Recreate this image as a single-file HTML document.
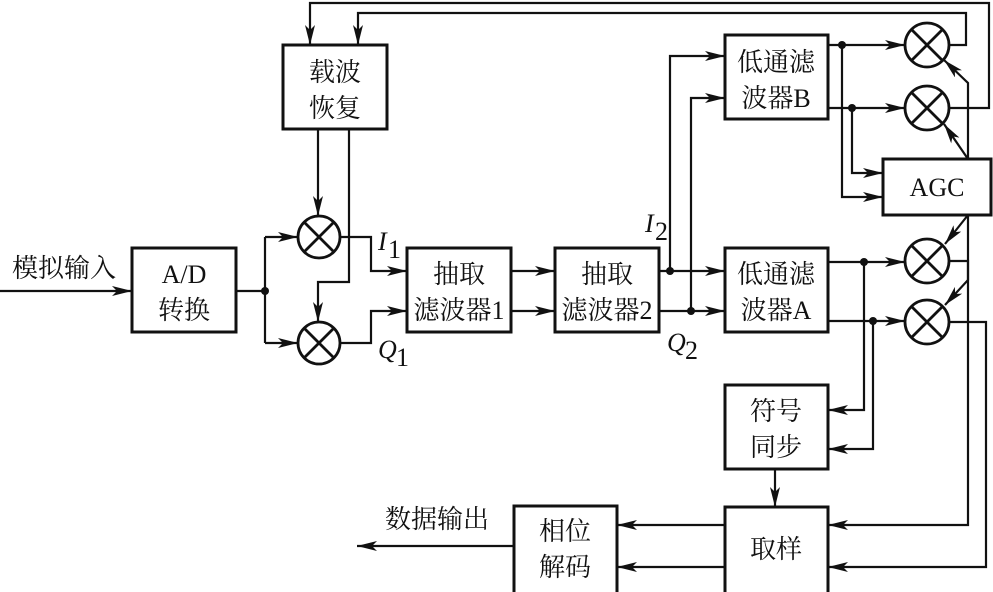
<!DOCTYPE html>
<html><head><meta charset="utf-8"><style>
html,body{margin:0;padding:0;background:#fff;}
svg{display:block;}
text{font-family:"Liberation Serif","Noto Serif CJK SC","Noto Sans CJK SC",serif;font-size:26px;fill:#111;}
.i{font-style:italic;}
</style></head><body>
<svg width="993" height="592" viewBox="0 0 993 592" xmlns="http://www.w3.org/2000/svg">
<defs>
<marker id="a" viewBox="0 0 20 10" refX="20" refY="5" markerWidth="20" markerHeight="10" markerUnits="userSpaceOnUse" orient="auto">
<path d="M0,0 L20,5 L0,10 L5,5 Z" fill="#111"/>
</marker>
</defs>
<g fill="none" stroke="#111" stroke-width="2.2">
<rect x="132" y="248" width="104" height="84" stroke-width="3"/>
<rect x="283" y="45" width="104" height="84" stroke-width="3"/>
<rect x="407" y="248" width="104" height="84" stroke-width="3"/>
<rect x="555" y="248" width="104" height="84" stroke-width="3"/>
<rect x="725" y="248" width="103" height="84" stroke-width="3"/>
<rect x="725" y="35" width="103" height="84" stroke-width="3"/>
<rect x="883" y="159" width="108" height="56" stroke-width="3"/>
<rect x="725" y="385" width="103" height="84" stroke-width="3"/>
<rect x="725" y="507" width="103" height="87" stroke-width="3"/>
<rect x="514" y="506" width="103" height="88" stroke-width="3"/>
<g stroke-width="2.8">
<circle cx="319" cy="237" r="21"/><path d="M304,222 L334,252 M334,222 L304,252"/>
<circle cx="319" cy="343" r="21"/><path d="M304,328 L334,358 M334,328 L304,358"/>
<circle cx="927" cy="45" r="22"/><path d="M911,29 L943,61 M943,29 L911,61"/>
<circle cx="927" cy="108" r="22"/><path d="M911,92 L943,124 M943,92 L911,124"/>
<circle cx="927" cy="261" r="22"/><path d="M911,245 L943,277 M943,245 L911,277"/>
<circle cx="927" cy="322" r="22"/><path d="M911,306 L943,338 M943,306 L911,338"/>
</g>
<path d="M0,291 H132" marker-end="url(#a)"/>
<path d="M236,291 H265 M265,237 V343"/>
<path d="M265,237 H298" marker-end="url(#a)"/>
<path d="M265,343 H298" marker-end="url(#a)"/>
<path d="M318,129 V216" marker-end="url(#a)"/>
<path d="M349,129 V282 H318 V322" marker-end="url(#a)"/>
<path d="M989,48 V3 H310 V45" marker-end="url(#a)"/>
<path d="M950,45 H966 V13 H358 V45" marker-end="url(#a)"/>
<path d="M949,108 H989 V48"/>
<path d="M340,237 H371 V271 H407" marker-end="url(#a)"/>
<path d="M340,343 H371 V311 H407" marker-end="url(#a)"/>
<path d="M511,271 H555" marker-end="url(#a)"/>
<path d="M511,311 H555" marker-end="url(#a)"/>
<path d="M659,271 H725" marker-end="url(#a)"/>
<path d="M659,311 H725" marker-end="url(#a)"/>
<path d="M670,271 V56 H725" marker-end="url(#a)"/>
<path d="M691,311 V98 H725" marker-end="url(#a)"/>
<path d="M828,45 H905" marker-end="url(#a)"/>
<path d="M828,108 H905" marker-end="url(#a)"/>
<path d="M842,45 V197 H883" marker-end="url(#a)"/>
<path d="M852,108 V173 H883" marker-end="url(#a)"/>
<path d="M968,159 V83 L944,60" marker-end="url(#a)"/>
<path d="M968,159 L944,124" marker-end="url(#a)"/>
<path d="M968,215 L945,244" marker-end="url(#a)"/>
<path d="M968,215 V280 L945,305" marker-end="url(#a)"/>
<path d="M828,262 H905" marker-end="url(#a)"/>
<path d="M828,321 H905" marker-end="url(#a)"/>
<path d="M864,262 V410 H828" marker-end="url(#a)"/>
<path d="M873,321 V449 H828" marker-end="url(#a)"/>
<path d="M775,469 V507" marker-end="url(#a)"/>
<path d="M949,261 H968 V525 H828" marker-end="url(#a)"/>
<path d="M949,322 H986 V567 H828" marker-end="url(#a)"/>
<path d="M725,525 H617" marker-end="url(#a)"/>
<path d="M725,567 H617" marker-end="url(#a)"/>
<path d="M514,546 H357" marker-end="url(#a)"/>
</g>
<g fill="#111" stroke="none">
<circle cx="265" cy="291" r="4"/><circle cx="670" cy="271" r="4"/><circle cx="691" cy="311" r="4"/>
<circle cx="842" cy="45" r="4"/><circle cx="852" cy="108" r="4"/>
<circle cx="864" cy="262" r="4"/><circle cx="873" cy="321" r="4"/>
</g>
<g text-anchor="middle">
<text x="184" y="283">A/D</text><text x="184" y="319">转换</text>
<text x="335" y="81">载波</text><text x="335" y="117">恢复</text>
<text x="459" y="283">抽取</text><text x="459" y="319">滤波器1</text>
<text x="607" y="283">抽取</text><text x="607" y="319">滤波器2</text>
<text x="776" y="283">低通滤</text><text x="776" y="319">波器A</text>
<text x="776" y="71">低通滤</text><text x="776" y="107">波器B</text>
<text x="937" y="196">AGC</text>
<text x="776" y="420">符号</text><text x="776" y="456">同步</text>
<text x="776" y="558">取样</text>
<text x="565" y="540">相位</text><text x="565" y="576">解码</text>
</g>
<text x="12" y="277">模拟输入</text>
<text x="385" y="528">数据输出</text>
<text class="i" x="378" y="250">I</text><text x="388" y="258" font-size="15">1</text>
<text class="i" x="378" y="358">Q</text><text x="396" y="366" font-size="15">1</text>
<text class="i" x="645" y="232">I</text><text x="655" y="240" font-size="15">2</text>
<text class="i" x="667" y="351">Q</text><text x="685" y="359" font-size="15">2</text>
</svg>
</body></html>
